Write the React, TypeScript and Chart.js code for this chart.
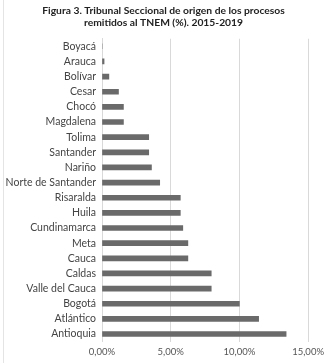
import React, { useEffect, useRef } from "react";
import { Chart, registerables } from "chart.js";

Chart.register(...registerables);

const categories = [
  "Boyacá", "Arauca", "Bolívar", "Cesar", "Chocó", "Magdalena", "Tolima", "Santander",
  "Nariño", "Norte de Santander", "Risaralda", "Huila", "Cundinamarca", "Meta", "Cauca",
  "Caldas", "Valle del Cauca", "Bogotá", "Atlántico", "Antioquia",
];
const values = [
  0.0, 0.15, 0.5, 1.2, 1.56, 1.56, 3.4, 3.4,
  3.6, 4.2, 5.7, 5.7, 5.88, 6.25, 6.25,
  7.95, 7.95, 10.0, 11.4, 13.4,
];
const titleLines = [
  "Figura 3. Tribunal Seccional de origen de los procesos",
  "remitidos al TNEM (%). 2015-2019",
];
const xMin = 0;
const xMax = 15;
const xStep = 5;

export default function App() {
  const ref = useRef<HTMLCanvasElement>(null);
  useEffect(() => {
    const chart = new Chart(ref.current!, {
      type: "bar",
      data: {
        labels: categories,
        datasets: [
          {
            data: values,
            backgroundColor: "#6a6a6a",
            barThickness: 5,
          },
        ],
      },
      options: {
        indexAxis: "y",
        animation: false,
        responsive: false,
        maintainAspectRatio: false,
        layout: { padding: { left: 0, right: 2, top: 4, bottom: 0 } },
        plugins: {
          legend: { display: false },
          tooltip: { enabled: false },
          title: {
            display: true,
            text: titleLines,
            color: "#222",
            font: { family: "Lato", size: 10.3, weight: "bold" },
            padding: { top: 0, bottom: 10 },
            lineHeight: 1.2,
          },
        },
        scales: {
          x: {
            min: xMin,
            max: xMax,
            ticks: {
              stepSize: xStep,
              color: "#555",
              font: { family: "Lato", size: 9.5 },
              padding: 5,
              callback: (v: any) => Number(v).toFixed(2).replace(".", ",") + "%",
            },
            grid: { color: "#d9d9d9", drawTicks: false },
            border: { display: false },
          },
          y: {
            ticks: {
              color: "#444",
              font: { family: "Lato", size: 10.5 },
              padding: 6,
              autoSkip: false,
            },
            grid: { display: false, drawTicks: false },
            border: { display: true, color: "#d9d9d9" },
            afterFit: (scale: any) => {
              scale.width = 102;
            },
          },
        },
      },
    });
    return () => chart.destroy();
  }, []);
  return (
    <div style={{ position: "absolute", left: 0, top: 0, width: 329, height: 363, background: "#fff" }}>
      <div style={{ position: "absolute", left: 3, top: 0, width: 1, height: 363, background: "#e4e4e4" }} />
      <canvas ref={ref} width={329} height={363} style={{ position: "absolute", left: 0, top: 0 }} />
    </div>
  );
}
